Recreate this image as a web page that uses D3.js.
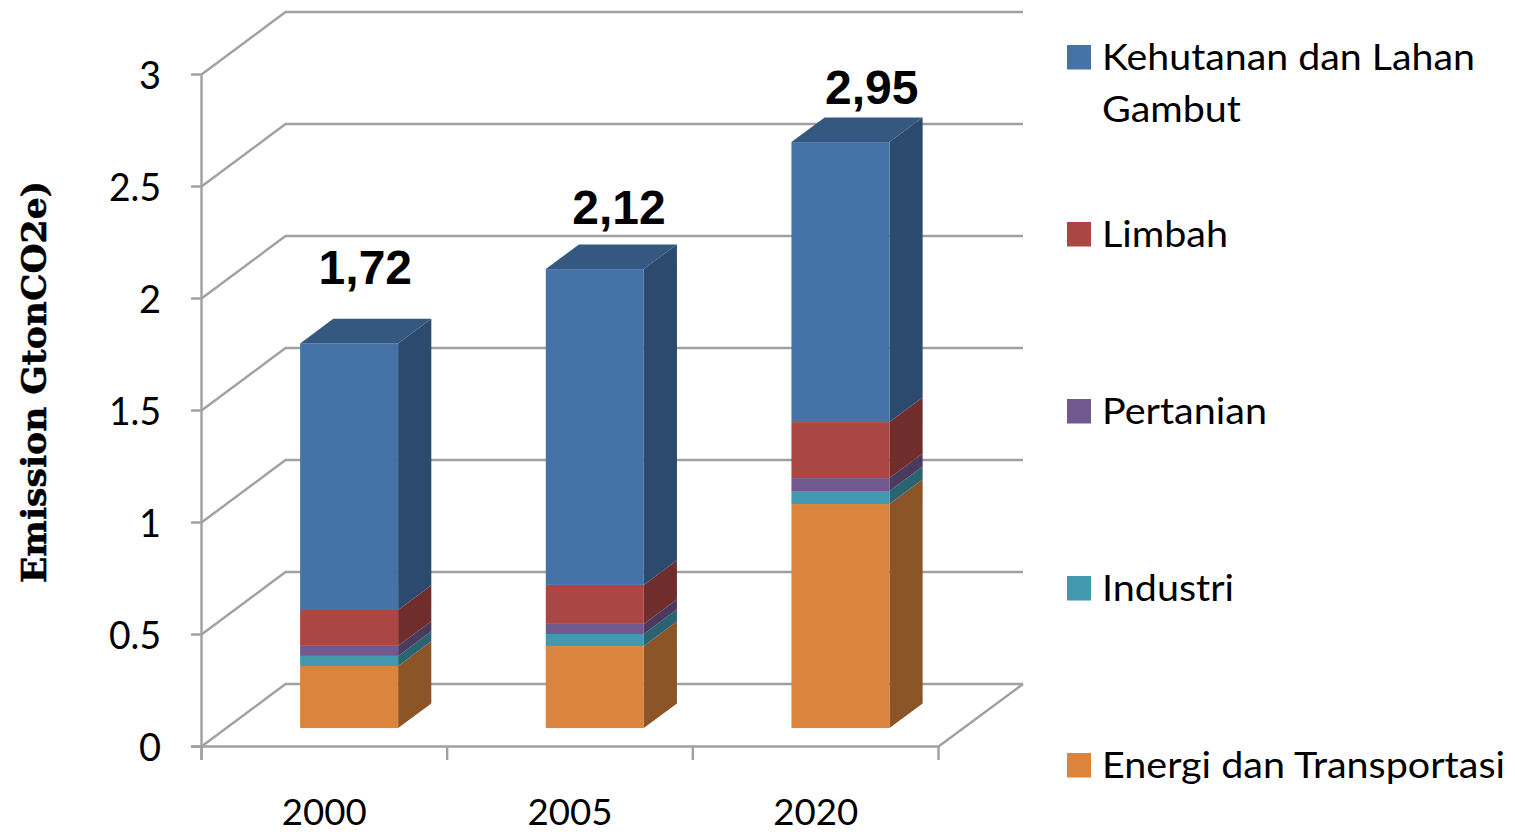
<!DOCTYPE html>
<html><head><meta charset="utf-8">
<script src="https://cdn.jsdelivr.net/npm/d3@7"></script>
<style>html,body{margin:0;padding:0;background:#fff;overflow:hidden}svg{display:block}</style>
</head><body><svg id="c" width="1515" height="832"></svg>
<script>
const categories = ["2000","2005","2020"];
const seriesNames = ["Energi dan Transportasi","Industri","Pertanian","Limbah","Kehutanan dan Lahan Gambut"];
const energi = [0.277,0.366,1.0];
const industri = [0.045,0.054,0.058];
const pertanian = [0.045,0.045,0.058];
const limbah = [0.16,0.174,0.25];
const kehutanan = [1.19,1.41,1.25];
const totalLabels = ["1,72","2,12","2,95"];
const yTicks = [0,0.5,1,1.5,2,2.5,3];

const frontColors = ["#db843d","#4198af","#71588f","#aa4643","#4572a7"];
const sideColors  = ["#8c5528","#2a6473","#493a5e","#6f2e2c","#2c4a6e"];
const topColor = "#34587f";

const svg = d3.select("#c");
const x = d3.scaleBand().domain(categories).range([201.5,938.5]).paddingInner(0).paddingOuter(0);
const y = d3.scaleLinear().domain([0,3]).range([746.5,74.5]);
const dx = d3.scaleLinear().domain([0,1]).range([0,84]);
const dy = d3.scaleLinear().domain([0,1]).range([0,-62.5]);
const GRID = "#a0a0a0";

const line = d3.line();
const grid = svg.append("g").attr("fill","none").attr("stroke",GRID).attr("stroke-width",2.4);
yTicks.forEach(t=>{
  grid.append("path").attr("d",line([[201.5,y(t)],[201.5+dx(1),y(t)+dy(1)],[1023,y(t)+dy(1)]]));
  grid.append("line").attr("x1",191).attr("x2",201.5).attr("y1",y(t)).attr("y2",y(t));
});
grid.append("line").attr("x1",201.5).attr("x2",201.5).attr("y1",y(3)).attr("y2",760);
grid.append("path").attr("d",line([[191,y(0)],[938.5,y(0)],[1023,y(0)+dy(1)]]));
[...categories.map(c=>x(c)),938.5].forEach(px=>{
  grid.append("line").attr("x1",px).attr("x2",px).attr("y1",746).attr("y2",760);
});

const sans = "Lato,'Open Sans',sans-serif";
svg.append("g").selectAll("text").data(yTicks).join("text")
  .attr("x",161).attr("y",d=>y(d)+14).attr("text-anchor","end")
  .attr("font-family",sans).attr("font-size",38).attr("textLength",d=>String(d).length>1?52:null)
  .attr("lengthAdjust","spacingAndGlyphs").attr("fill","#000").text(d=>d);
svg.append("g").selectAll("text").data(categories).join("text")
  .attr("x",d=>x(d)+x.bandwidth()/2).attr("y",825).attr("text-anchor","middle")
  .attr("font-family",sans).attr("font-size",37).attr("textLength",85)
  .attr("lengthAdjust","spacingAndGlyphs").attr("fill","#000").text(d=>d);

svg.append("text").attr("transform","translate(46,382) rotate(-90)").attr("text-anchor","middle")
  .attr("font-family","'DejaVu Serif','Liberation Serif',serif").attr("font-weight","bold").attr("font-size",34)
  .attr("textLength",402).attr("lengthAdjust","spacingAndGlyphs").attr("fill","#000")
  .attr("stroke","#000").attr("stroke-width",0.5)
  .text("Emission GtonCO2e)");

const stackVals = [energi,industri,pertanian,limbah,kehutanan];
const barW = 98, dFront = 0.295, dBack = 0.69;
const labelLift = [59,45,38], labelShift = [17,25,32];
categories.forEach((c,i)=>{
  const g = svg.append("g");
  const cx = x(c)+x.bandwidth()/2;
  const x0 = cx - barW/2 + dx(dFront), x1 = x0 + barW;
  const ox = dx(dBack)-dx(dFront), oy = dy(dBack)-dy(dFront);
  let acc = 0, top;
  stackVals.forEach((arr,s)=>{
    const y0 = y(acc)+dy(dFront), y1 = y(acc+arr[i])+dy(dFront);
    g.append("path").attr("fill",sideColors[s]).attr("d",line([[x1,y0],[x1+ox,y0+oy],[x1+ox,y1+oy],[x1,y1]])+"Z");
    g.append("rect").attr("x",x0).attr("y",y1).attr("width",barW).attr("height",y0-y1).attr("fill",frontColors[s]);
    acc += arr[i]; top = y1;
  });
  g.append("path").attr("fill",topColor).attr("d",line([[x0,top],[x0+ox,top+oy],[x1+ox,top+oy],[x1,top]])+"Z");
  svg.append("text").attr("x",cx+labelShift[i]+24).attr("y",top-labelLift[i])
    .attr("text-anchor","middle").attr("font-family","'Liberation Sans',Arial,sans-serif")
    .attr("font-weight","bold").attr("font-size",48).attr("fill","#000").text(totalLabels[i]);
});

const legendOrder = [
  {i:4, y:45, lines:["Kehutanan dan Lahan","Gambut"]},
  {i:3, y:222, lines:["Limbah"]},
  {i:2, y:399, lines:["Pertanian"]},
  {i:1, y:576, lines:["Industri"]},
  {i:0, y:753, lines:["Energi dan Transportasi"]}
];
const lenByText = {"Kehutanan dan Lahan":373,"Gambut":139,"Limbah":126,"Pertanian":165,"Industri":132,"Energi dan Transportasi":403};
const lg = svg.append("g");
legendOrder.forEach(o=>{
  lg.append("rect").attr("x",1067).attr("y",o.y).attr("width",24).attr("height",24.5).attr("fill",frontColors[o.i]);
  o.lines.forEach((t,k)=>{
    lg.append("text").attr("x",1102).attr("y",o.y+25+k*52).attr("font-family",sans).attr("font-size",37)
      .attr("textLength",lenByText[t]).attr("lengthAdjust","spacingAndGlyphs").attr("fill","#000").text(t);
  });
});
</script></body></html>
